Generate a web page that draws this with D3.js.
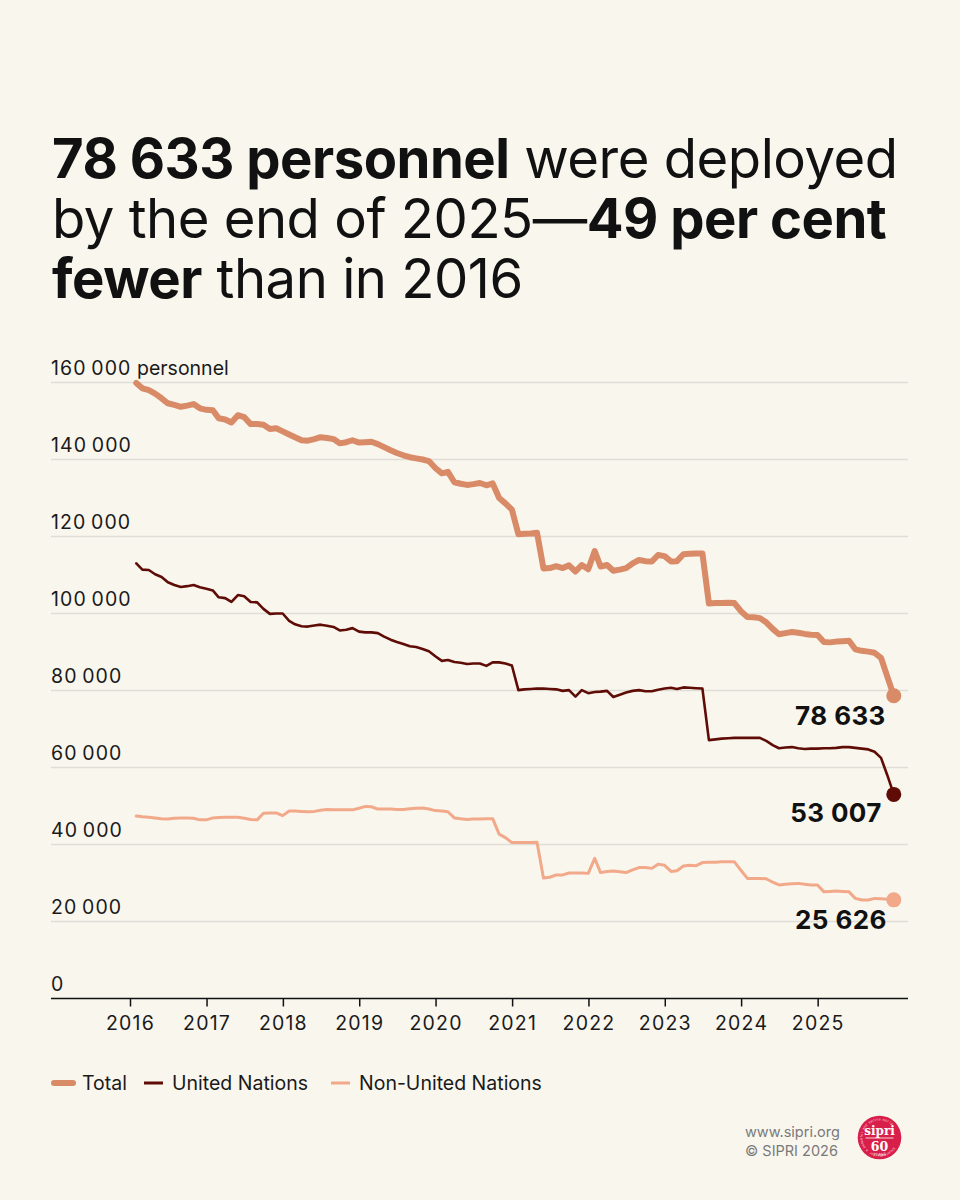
<!DOCTYPE html>
<html>
<head>
<meta charset="utf-8">
<script src="https://cdn.jsdelivr.net/npm/d3@7"></script>
<style>
  html, body { margin: 0; padding: 0; background: #f9f6ee; }
  svg { display: block; }
  text { font-family: Inter, "Open Sans", "Liberation Sans", sans-serif; }
</style>
</head>
<body>
<svg id="chart" width="960" height="1200"></svg>
<script>
// ---------- DATA ----------
const startYear = 2016;
const yearTicks = [2016, 2017, 2018, 2019, 2020, 2021, 2022, 2023, 2024, 2025];
const yTicks = [0, 20000, 40000, 60000, 80000, 100000, 120000, 140000, 160000];

// Monthly values, Jan 2016 – Dec 2025
const totalValues = [
  159900,158500,158000,157100,155900,154600,154200,153700,154000,154400,153300,152900,
  152800,150700,150400,149600,151500,151000,149200,149200,149000,147900,148100,147300,
  146500,145800,145000,144900,145300,145800,145600,145300,144200,144500,145000,144400,
  144500,144600,144000,143200,142400,141700,141100,140600,140300,140000,139600,137800,
  136400,136800,134100,133700,133400,133600,133900,133300,133800,130000,128600,127000,
  120600,120700,120800,121000,111700,111800,112300,111800,112500,110900,112600,111500,
  116200,112200,112600,111100,111400,111800,113000,113900,113600,113500,115200,114900,
  113500,113600,115400,115500,115600,115600,102600,102700,102700,102800,102700,100600,
  99100,99000,98800,97700,96000,94600,94900,95200,95000,94700,94500,94400,
  92600,92500,92700,92800,92900,90700,90300,90100,89800,88500,83600,78633
];
const unValues = [
  113000,111400,111300,110200,109500,108100,107400,106900,107100,107400,106800,106400,
  106000,104200,104000,103000,104800,104500,103000,102900,101200,99900,100000,100000,
  98100,97200,96700,96600,96900,97100,96800,96500,95600,95800,96200,95300,
  95100,95100,94900,94000,93200,92600,92100,91500,91300,90800,90200,88900,
  87700,87900,87400,87200,86900,87000,87000,86400,87300,87300,87000,86500,
  80100,80300,80400,80500,80500,80400,80300,79900,80100,78400,80100,79300,
  79600,79700,79900,78300,78900,79500,79900,80100,79800,79800,80200,80500,
  80700,80400,80800,80700,80600,80500,67100,67300,67500,67600,67700,67700,
  67700,67700,67700,66900,65800,65000,65200,65300,65000,64800,64900,64900,
  65000,65000,65100,65300,65300,65100,64900,64700,64100,62500,58000,53007
];
const nonUnValues = [
  47400,47200,47100,46900,46700,46600,46800,46900,46900,46800,46400,46400,
  46900,47000,47100,47100,47100,46800,46500,46400,48100,48200,48200,47500,
  48700,48700,48600,48500,48600,48900,49100,49000,49000,49000,49000,49400,
  49900,49800,49200,49200,49200,49100,49100,49300,49400,49500,49200,48800,
  48700,48500,46900,46700,46500,46600,46600,46700,46700,42700,41800,40500,
  40500,40500,40500,40600,31300,31500,32100,32100,32600,32600,32600,32500,
  36400,32700,33000,33100,32900,32700,33400,34000,34000,33800,34900,34600,
  33000,33200,34400,34600,34500,35300,35400,35400,35500,35500,35500,33300,
  31200,31200,31200,31100,30200,29500,29700,29800,29900,29700,29500,29500,
  27700,27800,27900,27800,27700,26000,25600,25600,26000,25900,25800,25626
];

const seriesNames = ["Total", "United Nations", "Non-United Nations"];
const seriesColors = ["#d98a66", "#5e0c05", "#f2a98a"];
const seriesWidths = [6, 2.6, 3];
const endLabels = ["78 633", "53 007", "25 626"];

// ---------- LAYOUT ----------
const svg = d3.select("#chart");
svg.append("rect").attr("width", 960).attr("height", 1200).attr("fill", "#f9f6ee");

const plotLeft = 51, plotRight = 908;
const x = d3.scaleTime()
  .domain([new Date(2016, 0, 1), new Date(2026, 0, 1)])
  .range([130, 894]);
const y = d3.scaleLinear().domain([0, 160000]).range([998.5, 382.5]);

const dates = d3.range(totalValues.length).map(i => new Date(startYear, i + 1, 0));

// ---------- TITLE ----------
const title = svg.append("g").attr("fill", "#111");
const titleLines = [
  [["78 633 personnel", 700], [" were deployed", 400]],
  [["by the end of 2025—", 400], ["49 per cent", 700]],
  [["fewer", 700], [" than in 2016", 400]]
];
const titleBase = [178, 238, 298];
const tEls = titleLines.map((parts, i) => {
  const t = title.append("text").attr("x", 52).attr("y", titleBase[i])
    .style("font-size", "52px").style("letter-spacing", "-0.5px");
  parts.forEach(p => t.append("tspan").attr("font-weight", p[1]).text(p[0]));
  return t;
});
const w0 = tEls[0].node().getComputedTextLength();
const fs = Math.max(44, Math.min(60, 52 * 845 / w0));
tEls.forEach(t => t.style("font-size", fs + "px"));

// ---------- GRID & Y LABELS ----------
const fmt = v => d3.format(",")(v).replace(/,/g, "\u2009");
const grid = svg.append("g");
yTicks.filter(v => v > 0).forEach(v => {
  grid.append("line")
    .attr("x1", plotLeft).attr("x2", plotRight)
    .attr("y1", y(v)).attr("y2", y(v))
    .attr("stroke", "#e0ddd6").attr("stroke-width", 1.5);
});
yTicks.forEach(v => {
  const t = grid.append("text")
    .attr("x", plotLeft).attr("y", y(v) - 8)
    .attr("fill", "#1a1a1a").style("font-size", "19.5px");
  t.append("tspan").style("letter-spacing", "1.1px").text(fmt(v));
  if (v === 160000) t.append("tspan").style("letter-spacing", "0px").text(" personnel");
});

// ---------- X AXIS ----------
const xAxis = d3.axisBottom(x)
  .tickValues(yearTicks.map(yr => new Date(yr, 0, 1)))
  .tickFormat(d3.timeFormat("%Y"))
  .tickSize(8).tickPadding(10);
const ax = svg.append("g").attr("transform", `translate(0,${y(0)})`).call(xAxis);
ax.select(".domain").remove();
ax.selectAll(".tick line").attr("stroke", "#111").attr("stroke-width", 1.5);
ax.selectAll(".tick text").attr("fill", "#1a1a1a").style("font-size", "19.5px")
  .style("letter-spacing", "1.2px")
  .style("font-family", 'Inter, "Open Sans", "Liberation Sans", sans-serif');
svg.append("line").attr("x1", plotLeft).attr("x2", plotRight)
  .attr("y1", y(0)).attr("y2", y(0)).attr("stroke", "#111").attr("stroke-width", 1.6);

// ---------- LINES ----------
const allSeries = [totalValues, unValues, nonUnValues];
const line = d3.line().x((d, i) => x(dates[i])).y(d => y(d)).curve(d3.curveLinear);
const drawOrder = [2, 1, 0];
drawOrder.forEach(k => {
  svg.append("path").datum(allSeries[k])
    .attr("d", line).attr("fill", "none")
    .attr("stroke", seriesColors[k]).attr("stroke-width", seriesWidths[k])
    .attr("stroke-linejoin", "round").attr("stroke-linecap", "round");
});
const labelDy = [29, 28, 29];
const labelDx = [8, 12, 7];
allSeries.forEach((s, k) => {
  const last = s.length - 1;
  const cx = x(dates[last]), cy = y(s[last]);
  svg.append("circle").attr("cx", cx).attr("cy", cy).attr("r", 7.5)
    .attr("fill", seriesColors[k]);
  svg.append("text").attr("x", cx - labelDx[k]).attr("y", cy + labelDy[k])
    .attr("text-anchor", "end").attr("font-weight", 700)
    .attr("fill", "#111").style("font-size", "26px").style("letter-spacing", "0.4px")
    .text(endLabels[k]);
});

// ---------- LEGEND ----------
const lg = svg.append("g").attr("transform", "translate(0,1083)");
const legendX = [52, 142, 329];
seriesNames.forEach((n, k) => {
  lg.append("line").attr("x1", legendX[k] + 2).attr("x2", legendX[k] + 21)
    .attr("y1", 0).attr("y2", 0)
    .attr("stroke", seriesColors[k]).attr("stroke-width", k === 0 ? 6 : 3)
    .attr("stroke-linecap", k === 0 ? "round" : "butt");
  lg.append("text").attr("x", legendX[k] + 30).attr("y", 7)
    .attr("fill", "#1a1a1a").style("font-size", "19.5px").text(n);
});

// ---------- FOOTER ----------
const ft = svg.append("g").attr("fill", "#7a7a7a").style("font-size", "14.5px");
ft.append("text").attr("x", 745).attr("y", 1137).text("www.sipri.org");
ft.append("text").attr("x", 745).attr("y", 1156).text("© SIPRI 2026");

// logo
const logo = svg.append("g").attr("transform", "translate(879.5,1137.5)");
logo.append("circle").attr("r", 21.8).attr("fill", "#d81f4a");
const motto = "Knowledge for a peaceful and secure world";
const a0 = -235, a1 = 45; // degrees, 0 = up, clockwise
motto.split("").forEach((ch, i) => {
  const a = a0 + (a1 - a0) * (i + 0.5) / motto.length;
  const rad = a * Math.PI / 180;
  const r = 18.3;
  logo.append("text")
    .attr("transform", `translate(${r * Math.sin(rad)},${-r * Math.cos(rad)}) rotate(${a})`)
    .attr("text-anchor", "middle").attr("dy", "1.2")
    .attr("fill", "#fbd3dc").style("font-size", "3.4px").text(ch);
});
logo.append("text").attr("y", -3).attr("text-anchor", "middle")
  .attr("fill", "#fff").attr("font-weight", 700)
  .style("font-family", '"DejaVu Serif", "Liberation Serif", serif').style("font-size", "12px")
  .text("sipri");
logo.append("line").attr("x1", -14).attr("x2", 14).attr("y1", 0.5).attr("y2", 0.5)
  .attr("stroke", "#fff").attr("stroke-width", 0.8);
logo.append("text").attr("y", 13).attr("text-anchor", "middle")
  .attr("fill", "#fff").attr("font-weight", 700)
  .style("font-family", '"DejaVu Serif", "Liberation Serif", serif').style("font-size", "12.5px")
  .text("60");
const yrs = "YEARS";
yrs.split("").forEach((ch, i) => {
  const a = 180 + 22 - 44 * (i + 0.5) / yrs.length;
  const rad = a * Math.PI / 180;
  const r = 17.5;
  logo.append("text")
    .attr("transform", `translate(${r * Math.sin(rad)},${-r * Math.cos(rad)}) rotate(${a - 180})`)
    .attr("text-anchor", "middle").attr("dy", "1.2")
    .attr("fill", "#fff").style("font-size", "3.6px").text(ch);
});
</script>
</body>
</html>
